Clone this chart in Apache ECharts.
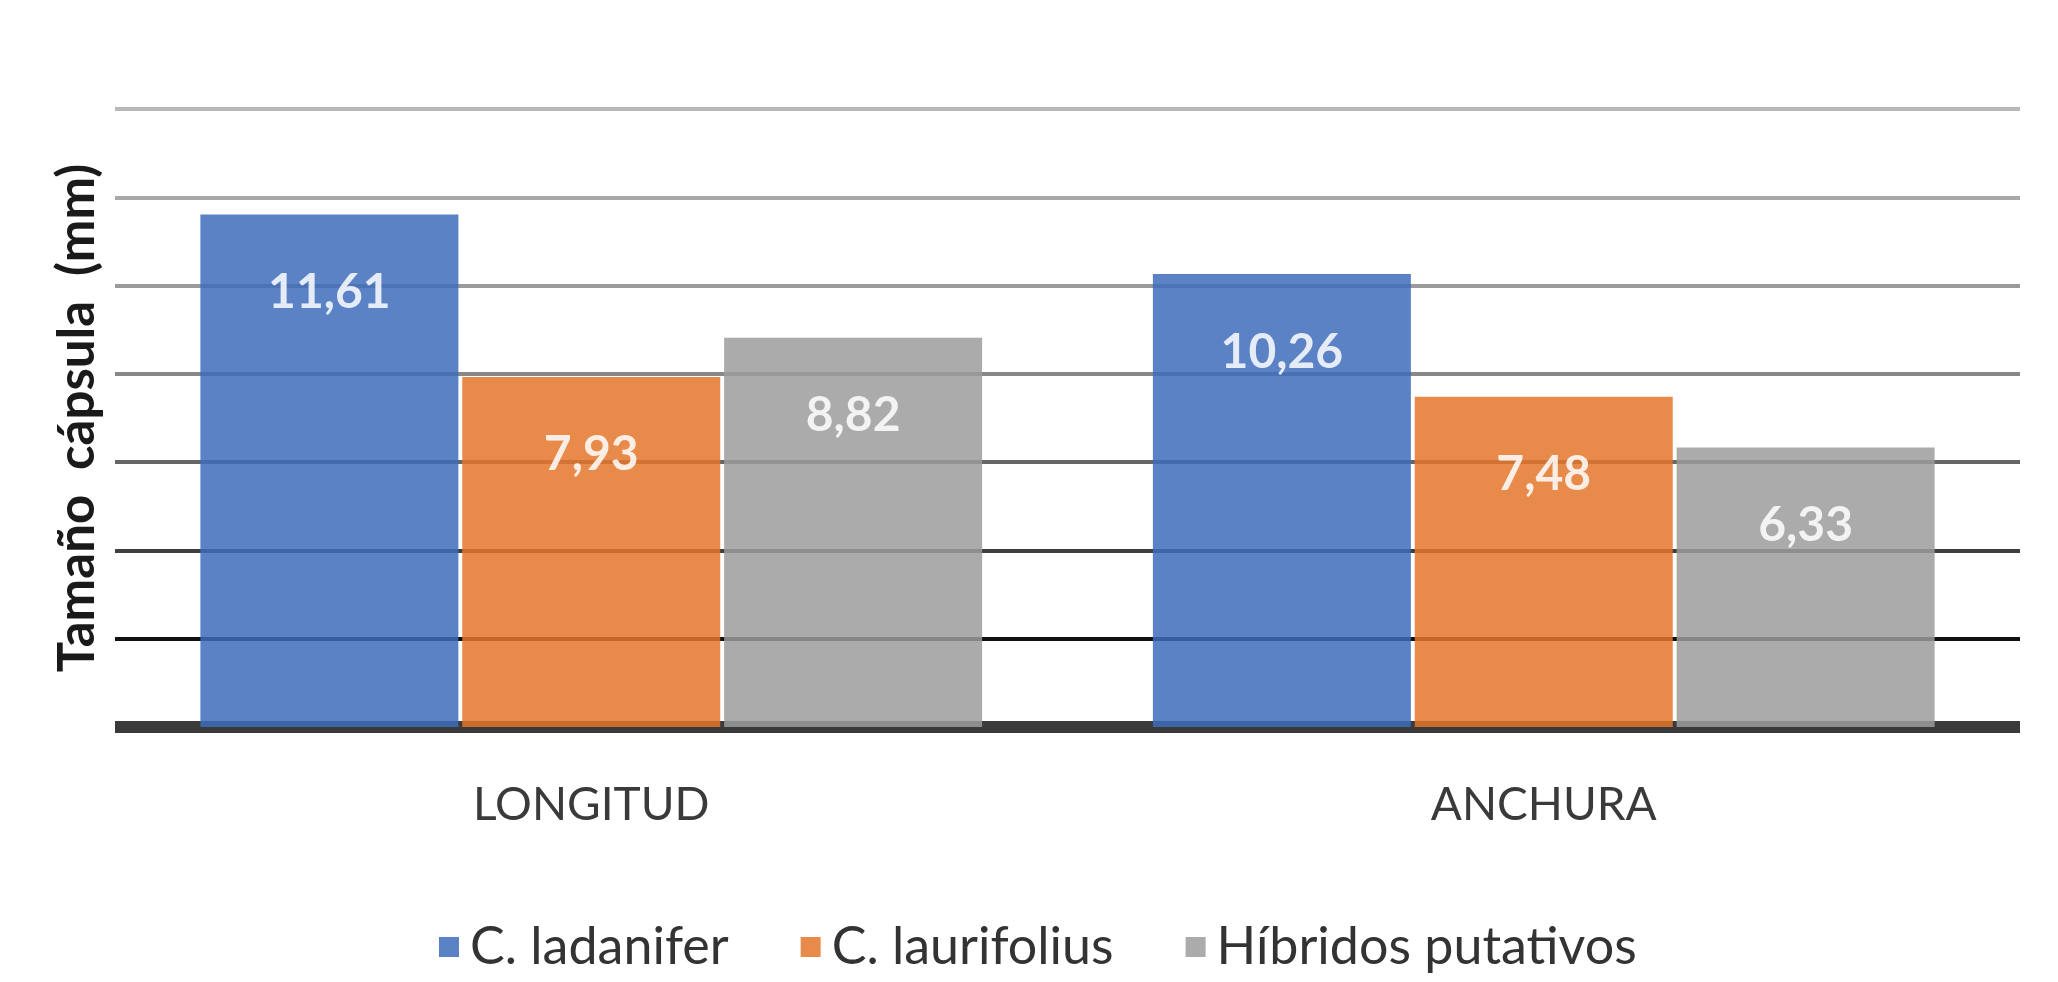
<!DOCTYPE html>
<html>
<head>
<meta charset="utf-8">
<script src="https://cdn.jsdelivr.net/npm/echarts@6/dist/echarts.min.js"></script>
<style>
  html, body { margin: 0; padding: 0; background: #fff; }
  #main { width: 2058px; height: 982px; }
</style>
</head>
<body>
<div id="main"></div>
<script>
var categories = ['LONGITUD', 'ANCHURA']
var seriesNames = ['C. ladanifer', 'C. laurifolius', 'Híbridos putativos']
var ladanifer = [11.61, 10.26]
var laurifolius = [7.93, 7.48]
var hibridos = [8.82, 6.33]
var colors = ['#3d6cbb', '#e4772a', '#9c9c9c']
// grid lines get darker towards the bottom (0, 2, 4 ... 14)
var gridColors = ['#000000', '#111111', '#3f3f3f', '#666666', '#888888', '#9a9a9a', '#a8a8a8', '#b8b8b8']

var chartDom = document.getElementById('main')
var myChart = echarts.init(chartDom)

function barSeries (name, data, color) {
  return {
    name: name,
    type: 'bar',
    data: data,
    barWidth: 258,
    barGap: '1.5%',
    itemStyle: {
      color: color,
      opacity: 0.85
    },
    label: {
      show: true,
      position: 'insideTop',
      distance: 54,
      color: '#ffffff',
      fontFamily: 'Lato',
      fontWeight: 'bold',
      fontSize: 48,
      formatter: function (p) {
        return p.value.toFixed(2).replace('.', ',')
      }
    }
  }
}

var option = {
  backgroundColor: '#ffffff',
  animation: false,
  color: colors,
  grid: {
    left: 115,
    right: 38,
    top: 109,
    bottom: 255
  },
  legend: {
    left: 434,
    top: 916,
    itemWidth: 20,
    itemHeight: 20,
    itemGap: 72,
    icon: 'rect',
    textStyle: {
      fontFamily: 'Lato',
      fontSize: 52,
      color: '#333333',
      padding: [0, 0, 0, 6]
    },
    data: seriesNames
  },
  xAxis: {
    type: 'category',
    data: categories,
    axisLine: {
      lineStyle: { color: '#3a3a3a', width: 12, cap: 'butt' }
    },
    axisTick: { show: false },
    axisLabel: {
      margin: 55,
      fontFamily: 'Lato',
      fontSize: 46,
      lineHeight: 46,
      color: '#3a3a3a'
    }
  },
  yAxis: {
    type: 'value',
    min: 0,
    max: 14,
    interval: 2,
    name: 'Tamaño  cápsula  (mm)',
    nameLocation: 'middle',
    nameGap: 12,
    nameTextStyle: {
      fontFamily: 'Lato',
      fontWeight: 'bold',
      fontSize: 51,
      color: '#1a1a1a'
    },
    axisLabel: { show: false },
    axisTick: { show: false },
    axisLine: { show: false },
    splitLine: {
      lineStyle: { color: gridColors, width: 4 }
    }
  },
  series: [
    barSeries(seriesNames[0], ladanifer, colors[0]),
    barSeries(seriesNames[1], laurifolius, colors[1]),
    barSeries(seriesNames[2], hibridos, colors[2])
  ]
}

option && myChart.setOption(option)
</script>
</body>
</html>
